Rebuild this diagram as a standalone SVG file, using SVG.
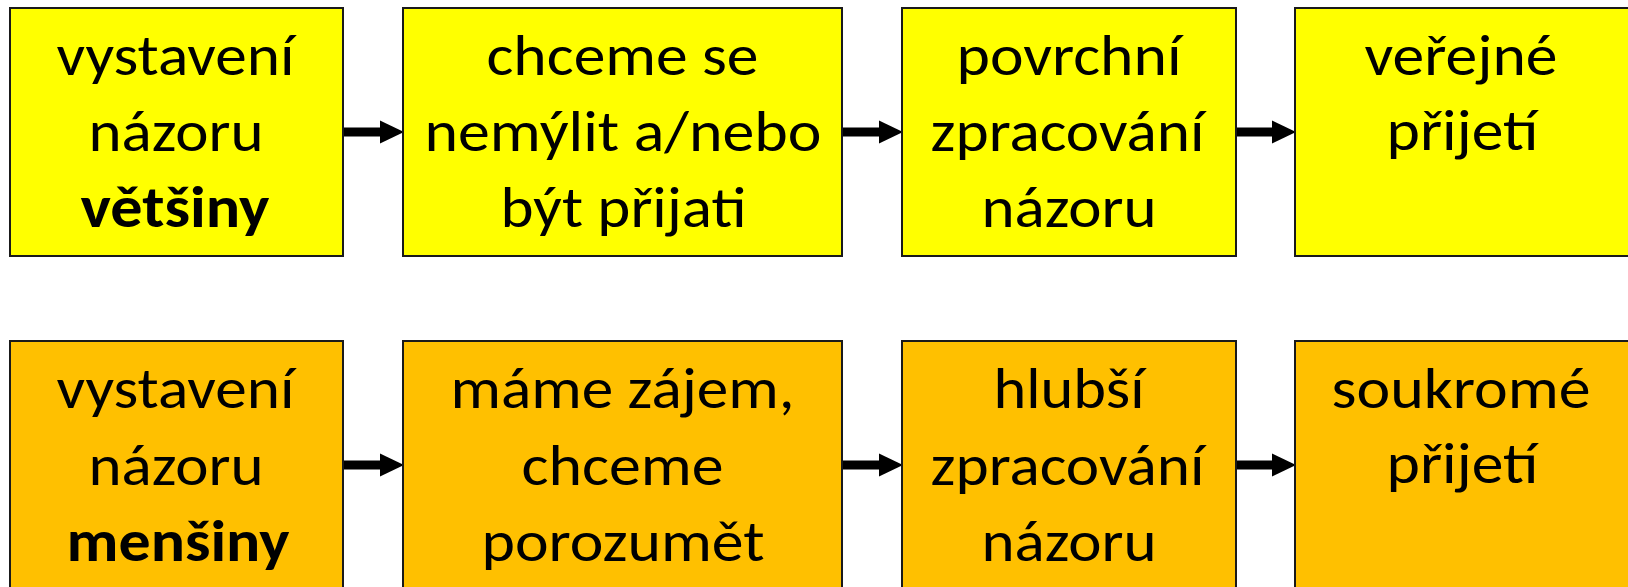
<svg xmlns="http://www.w3.org/2000/svg" width="1628" height="587" viewBox="0 0 1628 587">
<style>
.box{stroke:#1a1a1a;stroke-width:2}
.y{fill:#FFFF00}
.o{fill:#FFC000}
text{font-family:Carlito,Calibri,Lato,"Open Sans",sans-serif;font-size:58px;fill:#000;text-anchor:middle}
.b{font-weight:bold}
.c{stroke:#000;stroke-width:9;fill:none}
</style>
<defs>
<marker id="ah" markerUnits="userSpaceOnUse" markerWidth="24" markerHeight="24" viewBox="0 0 24 24" refX="0" refY="12" orient="auto">
<path d="M0,0.5 L24,12 L0,23.5 z" fill="#000"/>
</marker>
</defs>
<rect width="1628" height="587" fill="#fff"/>
<g id="connectors">
<line class="c" x1="343" y1="132" x2="380" y2="132" marker-end="url(#ah)"/>
<line class="c" x1="842" y1="132" x2="879" y2="132" marker-end="url(#ah)"/>
<line class="c" x1="1236" y1="132" x2="1272" y2="132" marker-end="url(#ah)"/>
<line class="c" x1="343" y1="465" x2="380" y2="465" marker-end="url(#ah)"/>
<line class="c" x1="842" y1="465" x2="879" y2="465" marker-end="url(#ah)"/>
<line class="c" x1="1236" y1="465" x2="1272" y2="465" marker-end="url(#ah)"/>
</g>
<g id="n1"><rect class="box y" x="10" y="8" width="333" height="248"/>
<text x="175.5" y="75" textLength="238" lengthAdjust="spacingAndGlyphs">vystavení</text><text x="176" y="151" textLength="175" lengthAdjust="spacingAndGlyphs">názoru</text><text class="b" x="175" y="227" textLength="189" lengthAdjust="spacingAndGlyphs">většiny</text></g>
<g id="n2"><rect class="box y" x="403" y="8" width="439" height="248"/>
<text x="622.5" y="75" textLength="272" lengthAdjust="spacingAndGlyphs">chceme se</text><text x="623" y="151" textLength="397" lengthAdjust="spacingAndGlyphs">nemýlit a/nebo</text><text x="623.5" y="227" textLength="246" lengthAdjust="spacingAndGlyphs">být přijati</text></g>
<g id="n3"><rect class="box y" x="902" y="8" width="334" height="248"/>
<text x="1069" y="75" textLength="225" lengthAdjust="spacingAndGlyphs">povrchní</text><text x="1067.5" y="151" textLength="274" lengthAdjust="spacingAndGlyphs">zpracování</text><text x="1069" y="227" textLength="175" lengthAdjust="spacingAndGlyphs">názoru</text></g>
<g id="n4"><rect class="box y" x="1295" y="8" width="334" height="248"/>
<text x="1461" y="75" textLength="193" lengthAdjust="spacingAndGlyphs">veřejné</text><text x="1462.5" y="150" textLength="152" lengthAdjust="spacingAndGlyphs">přijetí</text></g>
<g id="n5"><rect class="box o" x="10" y="341" width="333" height="250"/>
<text x="175.5" y="408" textLength="238" lengthAdjust="spacingAndGlyphs">vystavení</text><text x="176" y="485" textLength="175" lengthAdjust="spacingAndGlyphs">názoru</text><text class="b" x="178" y="561" textLength="223" lengthAdjust="spacingAndGlyphs">menšiny</text></g>
<g id="n6"><rect class="box o" x="403" y="341" width="439" height="250"/>
<text x="622.5" y="408" textLength="344" lengthAdjust="spacingAndGlyphs">máme zájem,</text><text x="622.5" y="485" textLength="202" lengthAdjust="spacingAndGlyphs">chceme</text><text x="623" y="561" textLength="283" lengthAdjust="spacingAndGlyphs">porozumět</text></g>
<g id="n7"><rect class="box o" x="902" y="341" width="334" height="250"/>
<text x="1069" y="408" textLength="151" lengthAdjust="spacingAndGlyphs">hlubší</text><text x="1067.5" y="485" textLength="274" lengthAdjust="spacingAndGlyphs">zpracování</text><text x="1069" y="561" textLength="175" lengthAdjust="spacingAndGlyphs">názoru</text></g>
<g id="n8"><rect class="box o" x="1295" y="341" width="334" height="250"/>
<text x="1461" y="408" textLength="259" lengthAdjust="spacingAndGlyphs">soukromé</text><text x="1462.5" y="483" textLength="152" lengthAdjust="spacingAndGlyphs">přijetí</text></g>
</svg>
